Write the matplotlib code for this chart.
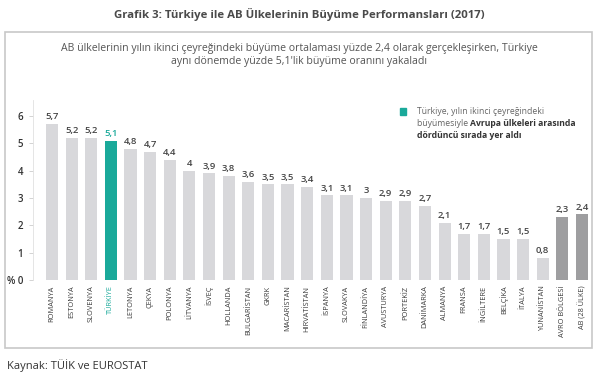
import matplotlib
matplotlib.use('Agg')
import matplotlib.pyplot as plt
from matplotlib.patches import Rectangle

plt.rcParams['font.family'] = ['Open Sans', 'DejaVu Sans']

# Data
countries = ['ROMANYA', 'ESTONYA', 'SLOVENYA', 'TÜRKİYE', 'LETONYA', 'ÇEKYA',
             'POLONYA', 'LİTVANYA', 'İSVEÇ', 'HOLLANDA', 'BULGARİSTAN', 'GKRK',
             'MACARİSTAN', 'HIRVATİSTAN', 'İSPANYA', 'SLOVAKYA', 'FİNLANDİYA',
             'AVUSTURYA', 'PORTEKİZ', 'DANİMARKA', 'ALMANYA', 'FRANSA',
             'İNGİLTERE', 'BELÇİKA', 'İTALYA', 'YUNANİSTAN', 'AVRO BÖLGESİ',
             'AB (28 ÜLKE)']
growth = [5.7, 5.2, 5.2, 5.1, 4.8, 4.7, 4.4, 4.0, 3.9, 3.8, 3.6, 3.5, 3.5,
          3.4, 3.1, 3.1, 3.0, 2.9, 2.9, 2.7, 2.1, 1.7, 1.7, 1.5, 1.5, 0.8,
          2.3, 2.4]
ytick_vals = [0, 1, 2, 3, 4, 5, 6]
ytick_text = ['% 0', '1', '2', '3', '4', '5', '6']

title = 'Grafik 3: Türkiye ile AB Ülkelerinin Büyüme Performansları (2017)'
subtitle = ('AB ülkelerinin yılın ikinci çeyreğindeki büyüme ortalaması yüzde 2,4 olarak gerçekleşirken, Türkiye\n'
            'aynı dönemde yüzde 5,1\'lik büyüme oranını yakaladı')
source = 'Kaynak: TÜİK ve EUROSTAT'

TEAL = '#1aa99a'
LIGHT = '#d8d8db'
DARK = '#9e9ea0'

W, H = 598, 377
fig = plt.figure(figsize=(W / 100, H / 100), dpi=100)

# Panel frame
fig.patches.append(Rectangle((5 / W, 1 - 348 / H), 587 / W, 316 / H,
                             transform=fig.transFigure, fill=False,
                             edgecolor='#c8c8c8', linewidth=1.2))

fig.text(0.5, 1 - 14 / H, title, ha='center', va='center', fontsize=8.2,
         fontweight='bold', color='#4a4a4a')
fig.text(0.5, 1 - 55 / H, subtitle, ha='center', va='center', fontsize=7.6,
         color='#555555', linespacing=1.3)
fig.text(7 / W, 1 - 366 / H, source, ha='left', va='center', fontsize=8,
         color='#333333')

# Axes geometry in pixels
left_px, right_px = 33, 592
y0_px, unit_px = 280, 27.33
ymax = 6.6
ax = fig.add_axes([left_px / W, 1 - y0_px / H, (right_px - left_px) / W,
                   ymax * unit_px / H])
spacing = 19.63
x0 = 52
ax.set_xlim((left_px - x0) / spacing, (right_px - x0) / spacing)
ax.set_ylim(0, ymax)

colors = [LIGHT] * len(countries)
colors[3] = TEAL
colors[-1] = DARK
colors[-2] = DARK
xs = list(range(len(countries)))
ax.bar(xs, growth, width=0.62, color=colors, zorder=2)

for x, v, c in zip(xs, growth, countries):
    lbl = ('%g' % v).replace('.', ',')
    ax.text(x, v + 0.1, lbl, ha='center', va='bottom', fontsize=6.8,
            fontweight='semibold', color=TEAL if c == 'TÜRKİYE' else '#444444')

ax.set_xticks(xs)
ax.set_xticklabels(countries, rotation=90, fontsize=5.3, color='#3c3c3c')
ax.get_xticklabels()[3].set_color(TEAL)
ax.tick_params(axis='x', length=0, pad=4)

ax.set_yticks(ytick_vals)
ax.set_yticklabels(ytick_text, fontsize=7, fontweight='semibold', color='#333333')
ax.tick_params(axis='y', length=3, width=0.6, color='#cccccc', pad=4)

for s in ['top', 'right', 'bottom']:
    ax.spines[s].set_visible(False)
ax.spines['left'].set_color('#e0e0e0')
ax.spines['left'].set_linewidth(0.6)
ax.axhline(0, color='#cccccc', linewidth=0.6, linestyle=(0, (1, 2)), zorder=1)
ax.set_facecolor('none')

# Legend note
fig.patches.append(Rectangle((400 / W, 1 - 115 / H), 6 / W, 7 / H,
                             transform=fig.transFigure, color=TEAL))
fig.text(417 / W, 1 - 111.5 / H, 'Türkiye, yılın ikinci çeyreğindeki',
         ha='left', va='center', fontsize=6.2, color='#666666')
t2 = fig.text(417 / W, 1 - 123.5 / H, 'büyümesiyle ',
              ha='left', va='center', fontsize=6.2, color='#666666')
ax.annotate('Avrupa ülkeleri arasında', xy=(1, 0.5), xycoords=t2,
            ha='left', va='center', fontsize=6.2, fontweight='bold',
            color='#333333', annotation_clip=False)
fig.text(417 / W, 1 - 135.5 / H, 'dördüncü sırada yer aldı',
         ha='left', va='center', fontsize=6.2, fontweight='bold',
         color='#333333')

fig.savefig('out.png', dpi=100)
